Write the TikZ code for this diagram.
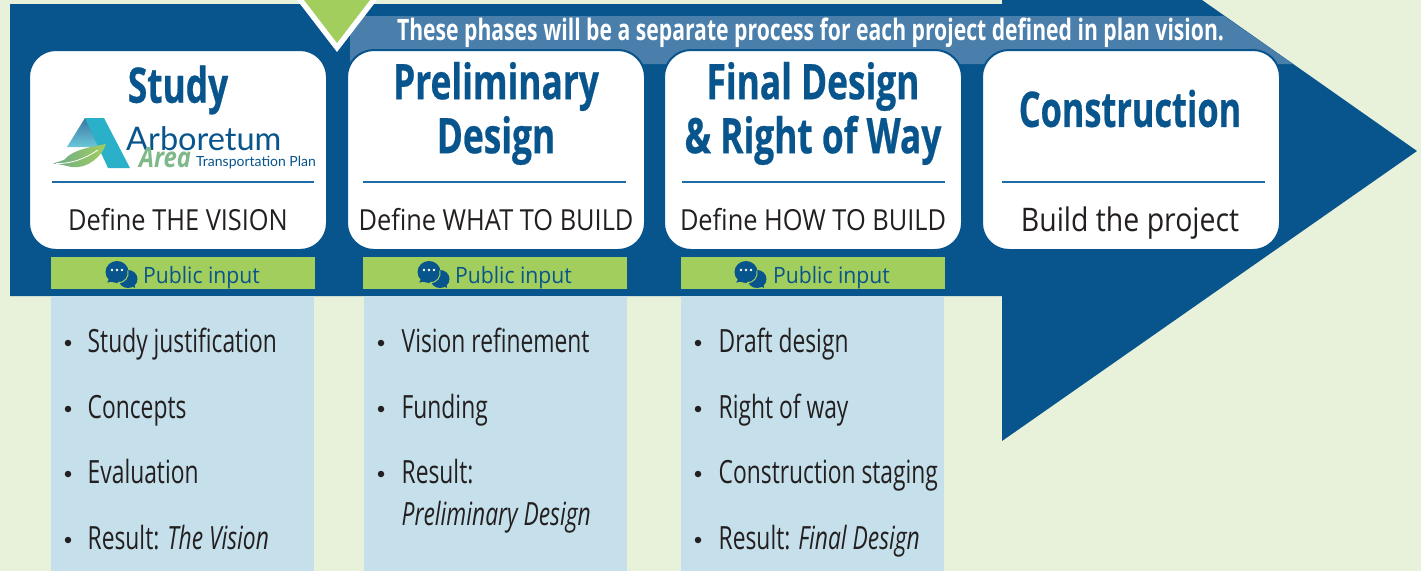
\documentclass[tikz,border=0pt]{standalone}
\usepackage{fontspec}
\setmainfont{Open Sans}
\newfontfamily\titlef[FakeStretch=0.72,BoldFeatures={FakeBold=0.5}]{Open Sans}
\newfontfamily\titlecf[FakeStretch=0.70,BoldFeatures={FakeBold=0.5}]{Open Sans}
\newfontfamily\bandf[FakeStretch=0.717]{Open Sans}
\newfontfamily\condf[FakeStretch=0.713]{Open Sans}
\newfontfamily\regf[FakeStretch=0.875]{Open Sans}
\newfontfamily\pubf[FakeStretch=0.94]{Open Sans}
\newfontfamily\areaf[FakeStretch=0.85]{Open Sans}
\newfontfamily\logof{Lato}
\definecolor{bgc}{HTML}{E8F2DA}
\definecolor{dkb}{HTML}{08548C}
\definecolor{bandc}{HTML}{4A7EAB}
\definecolor{grn}{HTML}{A2CE5E}
\definecolor{pan}{HTML}{C5E0EA}
\definecolor{ink}{HTML}{231F20}
\definecolor{rulec}{HTML}{1F6BA3}
\definecolor{tealc}{HTML}{2BB0C9}
\definecolor{leafc}{HTML}{7FB98A}
\tikzset{
  card/.style={draw=dkb,line width=2pt,fill=white,rounded corners=27pt,minimum width=298pt,minimum height=200pt,inner sep=0pt},
  pubbar/.style={fill=grn,minimum width=264pt,minimum height=32pt,inner sep=0pt},
  panel/.style={fill=pan,minimum width=263pt,minimum height=275pt,inner sep=0pt},
  titletxt/.style={text=dkb,font=\titlef\bfseries\fontsize{49}{54}\selectfont,align=center,inner sep=0pt},
  subtxt/.style={text=ink,font=\regf\fontsize{29}{32}\selectfont,anchor=base,inner sep=0pt},
  pubtxt/.style={text=dkb,font=\pubf\fontsize{22.5}{24}\selectfont,anchor=base west,inner sep=0pt},
  itemtxt/.style={text=ink,font=\condf\fontsize{32}{34}\selectfont,anchor=base west,inner sep=0pt},
  dotmark/.style={circle,fill=ink,minimum size=6.5pt,inner sep=0pt},
  bandtxt/.style={text=white,font=\bandf\bfseries\fontsize{29.5}{32}\selectfont,anchor=base,inner sep=0pt},
}
\newcommand{\chaticon}[2]{%
  \begin{scope}[shift={(#1,#2)}]
    \fill[dkb] (11,18) ellipse (9.5pt and 9pt);
    \fill[dkb] (13,24) -- (18,27) -- (17,19) -- cycle;
    \fill[dkb] (0,11) ellipse (11.5pt and 11pt);
    \draw[grn,line width=1pt] (1,21.5) .. controls (8,22) and (12,16) .. (11,9.5);
    \fill[dkb] (-7,17) -- (-10,21.5) -- (-1,20) -- cycle;
    \fill[white] (-5,9) circle (1.3pt) (0,9) circle (1.3pt) (5,9) circle (1.3pt);
  \end{scope}}
\begin{document}
\begin{tikzpicture}[x=1pt,y=-1pt]
\useasboundingbox (0,0) rectangle (1421,571);
\fill[bgc] (0,0) rectangle (1421,571);
% arrow
\fill[dkb] (10,4) -- (1002,4) -- (1002,0) -- (1202,0) -- (1417,151) -- (1002,441) -- (1002,296) -- (10,296) -- cycle;
% band
\fill[bandc] (350,16) -- (1224,16) -- (1293,64) -- (350,64) -- cycle;
% triangle
\fill[white] (297,0) -- (377,0) -- (337,52) -- cycle;
\fill[grn] (304,0) -- (370,0) -- (337,43) -- cycle;
\node[bandtxt] (bandlabel) at (810.5,40) {These phases will be a separate process for each project defined in plan vision.};
% panels
\node[panel] (p1) at (182.5,433.5) {};
\node[panel] (p2) at (495.5,433.5) {};
\node[panel] (p3) at (812.5,433.5) {};
% public input bars
\node[pubbar] (b1) at (183,273) {};
\node[pubbar] (b2) at (495,273) {};
\node[pubbar] (b3) at (813,273) {};
\chaticon{117}{261}
\chaticon{429}{261}
\chaticon{746}{261}
\node[pubtxt] (t1) at (143,283) {Public input};
\node[pubtxt] (t2) at (455,283) {Public input};
\node[pubtxt] (t3) at (773,283) {Public input};
% cards
\node[card] (c1) at (178,150) {};
\node[card] (c2) at (496,150) {};
\node[card] (c3) at (813,150) {};
\node[card] (c4) at (1131,150) {};
\draw[rulec,line width=1.5pt] (52,182) -- (314,182);
\draw[rulec,line width=1.5pt] (363,182) -- (626,182);
\draw[rulec,line width=1.5pt] (682,182) -- (945,182);
\draw[rulec,line width=1.5pt] (1002,182) -- (1265,182);
\node[titletxt] (h1) at (178,90) {Study};
\node[titletxt] (h2) at (496,113.5) {Preliminary\\Design};
\node[titletxt] (h3) at (813,113.5) {Final Design\\\& Right of Way};
\node[titletxt,font=\titlecf\bfseries\fontsize{49}{54}\selectfont] (h4) at (1130,108.5) {Construction};
\node[subtxt] (s1) at (178,230) {Define THE VISION};
\node[subtxt] (s2) at (496,230) {Define WHAT TO BUILD};
\node[subtxt] (s3) at (813,230) {Define HOW TO BUILD};
\node[subtxt,font=\regf\fontsize{32.5}{34}\selectfont] (s4) at (1130,231) {Build the project};
% logo
\shade[top color=dkb!80!white,bottom color=tealc!70!white] (85,118) -- (97,118) -- (103,147) -- (67,147) -- cycle;
\fill[tealc] (85,118) -- (104,118) -- (130,168) -- (108,168) -- cycle;
\shade[left color=leafc!85!dkb,right color=grn] (64,160) .. controls (72,150) and (90,147) .. (106,144) .. controls (102,156) and (88,169) .. (72,167) .. controls (66,166) and (60,164) .. (53,163.5) -- cycle;
\draw[white,line width=.8pt] (56,163.5) .. controls (72,164) and (86,158) .. (98,150);
\node[text=dkb,font=\logof\fontsize{32.5}{32}\selectfont,anchor=base west,inner sep=0pt] (lg1) at (126,150) {Arboretum};
\node[text=leafc,font=\areaf\bfseries\itshape\fontsize{28}{28}\selectfont,anchor=base west,inner sep=0pt] (lg2) at (139,167) {Area};
\node[text=dkb,font=\logof\fontsize{14}{14}\selectfont,anchor=base west,inner sep=0pt] (lg3) at (196,166) {Transportation Plan};
% lists column 1
\node[dotmark] (d11) at (68,343) {}; \node[itemtxt] (i11) at (87.5,352) {Study justification};
\node[dotmark] (d12) at (68,409) {}; \node[itemtxt] (i12) at (87.5,418) {Concepts};
\node[dotmark] (d13) at (68,474) {}; \node[itemtxt] (i13) at (87.5,483) {Evaluation};
\node[dotmark] (d14) at (68,540) {}; \node[itemtxt] (i14) at (87.5,549) {Result: \textit{The Vision}};
% column 2
\node[dotmark] (d21) at (381,343) {}; \node[itemtxt] (i21) at (401.5,352) {Vision refinement};
\node[dotmark] (d22) at (381,409) {}; \node[itemtxt] (i22) at (401.5,418) {Funding};
\node[dotmark] (d23) at (381,474) {}; \node[itemtxt] (i23) at (401.5,483) {Result:};
\node[itemtxt] (i24) at (401.5,525) {\textit{Preliminary Design}};
% column 3
\node[dotmark] (d31) at (698,343) {}; \node[itemtxt] (i31) at (718.5,352) {Draft design};
\node[dotmark] (d32) at (698,409) {}; \node[itemtxt] (i32) at (718.5,418) {Right of way};
\node[dotmark] (d33) at (698,474) {}; \node[itemtxt] (i33) at (718.5,483) {Construction staging};
\node[dotmark] (d34) at (698,540) {}; \node[itemtxt] (i34) at (718.5,549) {Result: \textit{Final Design}};
\end{tikzpicture}
\end{document}
